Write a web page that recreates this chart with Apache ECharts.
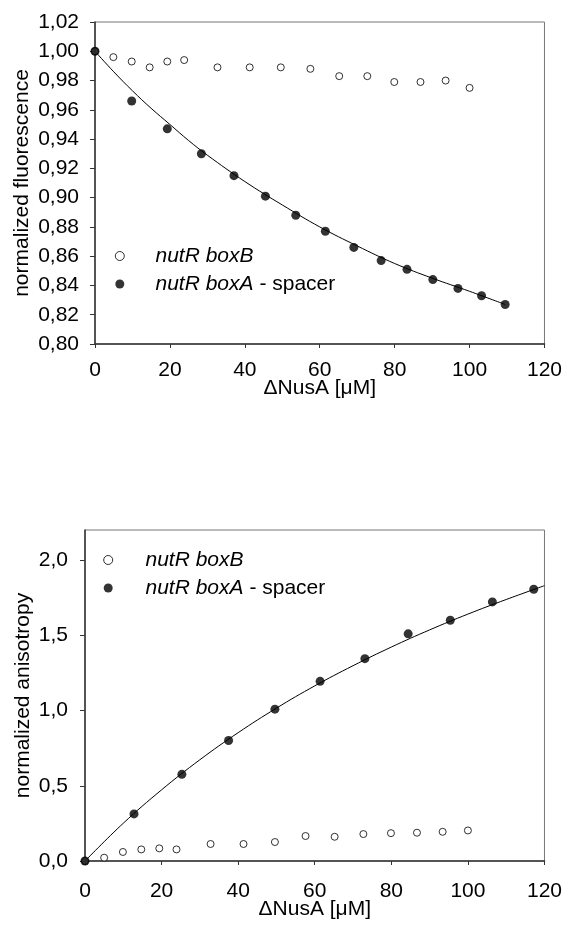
<!DOCTYPE html>
<html>
<head>
<meta charset="utf-8">
<script src="https://cdn.jsdelivr.net/npm/echarts@6/dist/echarts.min.js"></script>
<style>
html,body{margin:0;padding:0;background:#fff;}
#c{width:565px;height:929px;}
</style>
</head>
<body>
<div id="c"></div>
<script>
// ---- data ----
var topBoxB_x = [0, 4.9, 9.8, 14.6, 19.3, 23.8, 32.7, 41.3, 49.6, 57.5, 65.2, 72.7, 79.9, 86.9, 93.6, 100.0];
var topBoxB_y = [1.000, 0.996, 0.993, 0.989, 0.993, 0.994, 0.989, 0.989, 0.989, 0.988, 0.983, 0.983, 0.979, 0.979, 0.980, 0.975];

var topBoxA_x = [0, 9.8, 19.3, 28.4, 37.1, 45.5, 53.6, 61.5, 69.1, 76.4, 83.3, 90.2, 96.9, 103.2, 109.5];
var topBoxA_y = [1.000, 0.966, 0.947, 0.930, 0.915, 0.901, 0.888, 0.877, 0.866, 0.857, 0.851, 0.844, 0.838, 0.833, 0.827];

var topFit_x = [0, 5, 10, 15, 20, 25, 30, 40, 50, 60, 70, 80, 90, 100, 109.5];
var topFit_y = [1.000, 0.986, 0.973, 0.961, 0.950, 0.939, 0.929, 0.911, 0.895, 0.880, 0.867, 0.855, 0.845, 0.836, 0.827];

var botBoxB_x = [0, 5.0, 9.9, 14.7, 19.4, 23.9, 32.8, 41.4, 49.6, 57.6, 65.2, 72.7, 79.9, 86.7, 93.4, 100.0];
var botBoxB_y = [0, 0.022, 0.060, 0.077, 0.084, 0.077, 0.113, 0.113, 0.126, 0.166, 0.161, 0.179, 0.185, 0.188, 0.194, 0.203];

var botBoxA_x = [0, 12.8, 25.3, 37.5, 49.6, 61.4, 73.1, 84.4, 95.4, 106.4, 117.2];
var botBoxA_y = [0, 0.313, 0.576, 0.801, 1.009, 1.194, 1.345, 1.510, 1.600, 1.722, 1.806];

var botFit_x = [0, 10, 20, 30, 40, 50, 60, 70, 80, 90, 100, 110, 120];
var botFit_y = [0, 0.251, 0.473, 0.673, 0.853, 1.016, 1.164, 1.298, 1.422, 1.536, 1.641, 1.738, 1.830];

var xTicks = [0, 20, 40, 60, 80, 100, 120];
var topYTicks = [0.80, 0.82, 0.84, 0.86, 0.88, 0.90, 0.92, 0.94, 0.96, 0.98, 1.00, 1.02];
var botYTicks = [0, 0.5, 1.0, 1.5, 2.0];

var xTitle = '\u0394NusA [\u03bcM]';
var topYTitle = 'normalized fluorescence';
var botYTitle = 'normalized anisotropy';
var legendNames = { boxB: 'nutR boxB', boxA: 'nutR boxA' };

// ---- helpers ----
function zip(xs, ys) { return xs.map(function (x, i) { return [x, ys[i]]; }); }
var FONT = "'Liberation Sans', Arial, sans-serif";
var FS = 21;
var AX = '#333';

function xAxis(gi, gap, lblMargin) {
  return {
    type: 'value', gridIndex: gi, min: 0, max: 120, interval: 20,
    name: xTitle, nameLocation: 'middle', nameGap: gap, nameMoveOverlap: false,
    nameTextStyle: { fontFamily: FONT, fontSize: FS, color: '#000' },
    axisLine: { show: true, lineStyle: { color: AX, width: 1.5 } },
    axisTick: { show: true, length: 4, inside: false, lineStyle: { color: AX }, customValues: xTicks },
    axisLabel: { fontFamily: FONT, fontSize: FS, color: '#000', margin: lblMargin, customValues: xTicks },
    splitLine: { show: false }
  };
}
function yAxis(gi, min, max, ticks, dec, gap, lblMargin, title) {
  return {
    type: 'value', gridIndex: gi, min: min, max: max,
    name: title, nameLocation: 'middle', nameGap: gap, nameMoveOverlap: false,
    nameTextStyle: { fontFamily: FONT, fontSize: FS, color: '#000' },
    axisLine: { show: true, lineStyle: { color: AX, width: 1.5 } },
    axisTick: { show: true, length: 5, inside: false, lineStyle: { color: AX }, customValues: ticks },
    axisLabel: {
      fontFamily: FONT, fontSize: FS, color: '#000', margin: lblMargin, customValues: ticks,
      formatter: function (v) { return Number(v).toFixed(dec).replace('.', ','); }
    },
    splitLine: { show: false }
  };
}
function openSeries(name, xi, data) {
  return {
    name: name, type: 'scatter', xAxisIndex: xi, yAxisIndex: xi, data: data,
    symbol: 'circle', symbolSize: 7,
    itemStyle: { color: '#fff', borderColor: '#000', borderWidth: 1 }, z: 3
  };
}
function filledSeries(name, xi, data) {
  return {
    name: name, type: 'scatter', xAxisIndex: xi, yAxisIndex: xi, data: data,
    symbol: 'circle', symbolSize: 9,
    itemStyle: { color: '#000', borderWidth: 0 }, z: 4
  };
}
function fitSeries(xi, data) {
  return {
    type: 'line', xAxisIndex: xi, yAxisIndex: xi, data: data, smooth: 0.4,
    showSymbol: false, silent: true, lineStyle: { color: '#000', width: 1 }, z: 2
  };
}
function legend(names, left, top, pad) {
  return {
    orient: 'vertical', left: left, top: top, itemWidth: 9, itemHeight: 9, itemGap: 0,
    padding: 0, selectedMode: false,
    data: [
      { name: names[0], icon: 'circle', itemStyle: { color: '#fff', borderColor: '#000', borderWidth: 1 } },
      { name: names[1], icon: 'circle', itemStyle: { color: '#000', borderWidth: 0 } }
    ],
    textStyle: {
      fontFamily: FONT, fontSize: FS, color: '#000', lineHeight: 28,
      rich: {
        i: { fontFamily: FONT, fontSize: FS, fontStyle: 'italic', color: '#000', lineHeight: 28, padding: [0, 0, 0, pad] },
        n: { fontFamily: FONT, fontSize: FS, color: '#000', lineHeight: 28 }
      }
    },
    formatter: function (name) {
      if (name.indexOf('boxB') >= 0) return '{i|' + legendNames.boxB + '}';
      return '{i|' + legendNames.boxA + '}{n| - spacer}';
    }
  };
}

var chart = echarts.init(document.getElementById('c'), null, { renderer: 'canvas' });
chart.setOption({
  backgroundColor: '#fff',
  animation: false,
  grid: [
    { left: 95, top: 22, width: 450.5, height: 322, show: true, borderColor: '#777', borderWidth: 1, backgroundColor: 'transparent' },
    { left: 85, top: 530, width: 460, height: 331, show: true, borderColor: '#777', borderWidth: 1, backgroundColor: 'transparent' }
  ],
  legend: [
    legend(['boxB', 'boxA'], 114.8, 242, 26.2),
    legend(['boxB2', 'boxA2'], 103.2, 546, 27.8)
  ],
  xAxis: [xAxis(0, 34, 15.5), xAxis(1, 37.5, 19.5)],
  yAxis: [
    yAxis(0, 0.80, 1.02, topYTicks, 2, 62, 16, topYTitle),
    yAxis(1, 0, 2.2, botYTicks, 1, 51.5, 17, botYTitle)
  ],
  series: [
    fitSeries(0, zip(topFit_x, topFit_y)),
    openSeries('boxB', 0, zip(topBoxB_x, topBoxB_y)),
    filledSeries('boxA', 0, zip(topBoxA_x, topBoxA_y)),
    fitSeries(1, zip(botFit_x, botFit_y)),
    openSeries('boxB2', 1, zip(botBoxB_x, botBoxB_y)),
    filledSeries('boxA2', 1, zip(botBoxA_x, botBoxA_y))
  ]
});
</script>
</body>
</html>
